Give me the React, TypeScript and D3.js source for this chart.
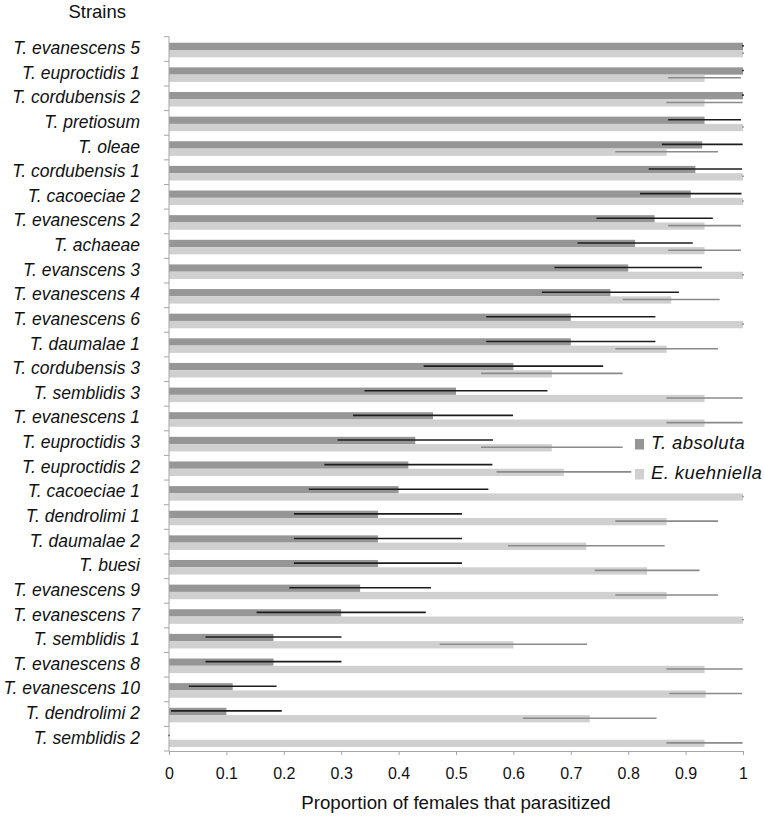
import { useEffect, useRef } from 'react';
import * as d3 from 'd3';

const strains = [
  'T. evanescens 5', 'T. euproctidis 1', 'T. cordubensis 2', 'T. pretiosum', 'T. oleae',
  'T. cordubensis 1', 'T. cacoeciae 2', 'T. evanescens 2', 'T. achaeae', 'T. evanscens 3',
  'T. evanescens 4', 'T. evanescens 6', 'T. daumalae 1', 'T. cordubensis 3', 'T. semblidis 3',
  'T. evanescens 1', 'T. euproctidis 3', 'T. euproctidis 2', 'T. cacoeciae 1', 'T. dendrolimi 1',
  'T. daumalae 2', 'T. buesi', 'T. evanescens 9', 'T. evanescens 7', 'T. semblidis 1',
  'T. evanescens 8', 'T. evanescens 10', 'T. dendrolimi 2', 'T. semblidis 2',
];

// T. absoluta (dark bars)
const absoluta = [
  1, 1, 1, 0.933, 0.929, 0.917, 0.909, 0.846, 0.812, 0.8,
  0.769, 0.7, 0.7, 0.6, 0.5, 0.46, 0.429, 0.417, 0.4, 0.364,
  0.364, 0.364, 0.333, 0.3, 0.182, 0.182, 0.111, 0.1, 0,
];
const absolutaErr = [
  0, 0, 0, 0.062, 0.069, 0.08, 0.087, 0.1, 0.099, 0.127,
  0.118, 0.146, 0.146, 0.155, 0.158, 0.138, 0.134, 0.145, 0.155, 0.145,
  0.145, 0.145, 0.122, 0.146, 0.117, 0.117, 0.075, 0.095, 0,
];

// E. kuehniella (light bars)
const kuehniella = [
  1, 0.933, 0.933, 1, 0.867, 1, 1, 0.933, 0.933, 1,
  0.875, 1, 0.867, 0.667, 0.933, 0.933, 0.667, 0.688, 1, 0.867,
  0.727, 0.833, 0.867, 1, 0.6, 0.933, 0.935, 0.733, 0.933,
];
const kuehniellaErr = [
  0, 0.062, 0.065, 0, 0.088, 0, 0, 0.062, 0.062, 0,
  0.083, 0, 0.088, 0.122, 0.065, 0.065, 0.122, 0.116, 0, 0.088,
  0.135, 0.09, 0.088, 0, 0.127, 0.065, 0.062, 0.115, 0.065,
];

const xTicks = [0, 0.1, 0.2, 0.3, 0.4, 0.5, 0.6, 0.7, 0.8, 0.9, 1];
const seriesNames = ['T. absoluta', 'E. kuehniella'];
const seriesColors = ['#969696', '#d0d0d0'];
const errColors = ['#1c1c1c', '#8a8a8a'];

const FONT = '"Liberation Sans", Arial, sans-serif';

const App = () => {
  const svgRef = useRef<SVGSVGElement | null>(null);

  useEffect(() => {
    document.body.style.margin = '0';
    const svg = d3.select(svgRef.current);
    svg.selectAll('*').remove();

    const x = d3.scaleLinear().domain([0, 1]).range([169, 743]);
    const y = d3.scaleBand<string>().domain(strains).range([36.7, 751]).padding(0);
    // two bars per strain, sitting a little below the middle of each slot
    const sub = d3.scaleBand<number>()
      .domain([0, 1])
      .range([0, y.bandwidth()])
      .paddingInner(0)
      .paddingOuter(0.69)
      .align(0.6);

    const series = [
      { values: absoluta, err: absolutaErr },
      { values: kuehniella, err: kuehniellaErr },
    ];

    // bars
    series.forEach((s, si) => {
      svg.append('g')
        .selectAll('rect')
        .data(strains)
        .join('rect')
        .attr('x', x(0))
        .attr('y', d => (y(d) as number) + (sub(si) as number))
        .attr('width', (d, i) => x(s.values[i]) - x(0))
        .attr('height', sub.bandwidth())
        .attr('fill', seriesColors[si]);
    });

    // error bars (no caps)
    series.forEach((s, si) => {
      svg.append('g')
        .attr('stroke', errColors[si])
        .attr('stroke-width', 1.6)
        .attr('stroke-linecap', 'square')
        .selectAll('line')
        .data(strains)
        .join('line')
        .attr('x1', (d, i) => x(Math.max(0, s.values[i] - s.err[i])))
        .attr('x2', (d, i) => x(Math.min(1, s.values[i] + s.err[i])))
        .attr('y1', d => (y(d) as number) + (sub(si) as number) + sub.bandwidth() / 2 - 0.5)
        .attr('y2', d => (y(d) as number) + (sub(si) as number) + sub.bandwidth() / 2 - 0.5);
    });

    // y axis
    const yAxis = svg.append('g').attr('stroke', '#a6a6a6').attr('stroke-width', 1);
    yAxis.append('line')
      .attr('x1', x(0)).attr('x2', x(0))
      .attr('y1', y.range()[0]).attr('y2', y.range()[1]);
    const boundaries = strains.map(d => y(d) as number).concat([y.range()[1]]);
    yAxis.selectAll('line.tick')
      .data(boundaries)
      .join('line')
      .attr('class', 'tick')
      .attr('x1', x(0) - 5).attr('x2', x(0))
      .attr('y1', d => d).attr('y2', d => d);

    svg.append('g')
      .selectAll('text')
      .data(strains)
      .join('text')
      .attr('x', 140)
      .attr('y', d => (y(d) as number) + y.bandwidth() / 2 + 5)
      .attr('text-anchor', 'end')
      .attr('font-family', FONT)
      .attr('font-style', 'italic')
      .attr('font-size', 17.5)
      .attr('fill', '#111')
      .text(d => d);

    // x axis
    const xAxis = svg.append('g')
      .attr('transform', `translate(0,751)`)
      .call(d3.axisBottom(x).tickValues(xTicks).tickSize(4).tickPadding(13).tickFormat(d => String(d)));
    xAxis.select('.domain').attr('stroke', '#a6a6a6');
    xAxis.selectAll('.tick line').attr('stroke', '#a6a6a6');
    xAxis.selectAll('.tick text')
      .attr('font-family', FONT)
      .attr('font-size', 16)
      .attr('fill', '#111');

    svg.append('text')
      .attr('x', (x(0) + x(1)) / 2)
      .attr('y', 809)
      .attr('text-anchor', 'middle')
      .attr('font-family', FONT)
      .attr('font-size', 18.7)
      .attr('fill', '#111')
      .text('Proportion of females that parasitized');

    svg.append('text')
      .attr('x', 126)
      .attr('y', 18)
      .attr('text-anchor', 'end')
      .attr('font-family', FONT)
      .attr('font-size', 18.5)
      .attr('fill', '#111')
      .text('Strains');

    // legend
    const legend = svg.append('g');
    seriesNames.forEach((name, i) => {
      const ly = 439 + i * 30;
      legend.append('rect')
        .attr('x', 635).attr('y', ly)
        .attr('width', 9).attr('height', 10.5)
        .attr('fill', seriesColors[i]);
      legend.append('text')
        .attr('x', 651).attr('y', ly + 9.5)
        .attr('font-family', FONT)
        .attr('font-style', 'italic')
        .attr('font-size', 18.5)
        .attr('letter-spacing', 0.4)
        .attr('fill', '#111')
        .text(name);
    });
  }, []);

  return <svg ref={svgRef} width={764} height={820} style={{ display: 'block', background: '#fff' }} />;
};

export default App;
